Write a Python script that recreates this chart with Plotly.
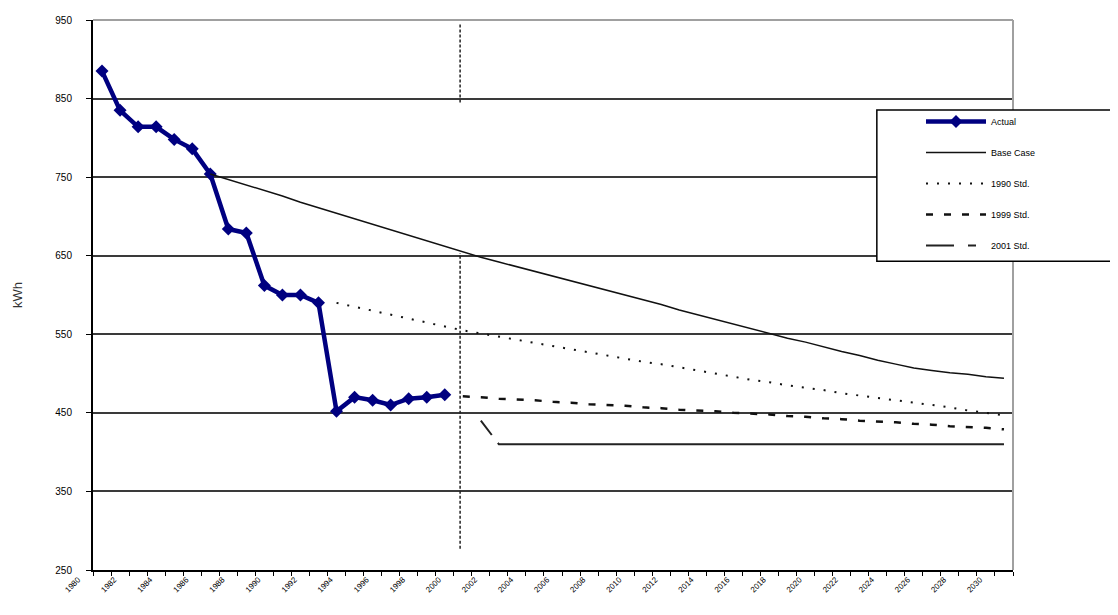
import plotly.graph_objects as go

# ---------------- data ----------------
actual_years = list(range(1980, 2000))
actual_kwh = [885, 835, 814, 814, 798, 786, 754, 684, 679, 612,
              600, 600, 590, 452, 470, 466, 460, 468, 470, 473]

base_years = list(range(1986, 2031))
base_kwh = [754, 747, 740, 733, 726, 718, 711, 704, 697, 690,
            683, 675, 668, 661, 654, 648, 642, 636, 630, 624,
            618, 612, 606, 600, 594, 588, 581, 575, 569, 563,
            557, 551, 545, 540, 534, 528, 523, 517, 512, 507,
            504, 501, 499, 496, 494]

std1990_years = list(range(1993, 2031))
std1990_kwh = [590, 585, 580, 575, 570, 565, 560, 555, 551, 547,
               543, 539, 535, 531, 527, 523, 519, 515, 512, 508,
               504, 500, 496, 492, 489, 485, 482, 479, 475, 472,
               469, 466, 463, 460, 457, 453, 450, 447]

std1999_years = list(range(2000, 2031))
std1999_kwh = [471, 470, 468, 467, 466, 464, 463, 461, 460, 459,
               457, 456, 454, 453, 452, 450, 449, 448, 446, 445,
               443, 442, 440, 439, 438, 436, 435, 433, 432, 431, 429]

std2001_years = list(range(2001, 2031))
std2001_kwh = [440] + [410] * 29

tick_years = list(range(1980, 2031, 2))
tick_labels = [str(y) for y in tick_years]
y_ticks = [250, 350, 450, 550, 650, 750, 850, 950]

# divider (drawn reference line) position and spans
divider_year = 1999.85
divider_spans = [(845, 945), (277, 653)]

# ---------------- figure ----------------
fig = go.Figure()

fig.add_trace(go.Scatter(
    x=actual_years, y=actual_kwh, name="Actual", mode="lines+markers",
    line=dict(color="#000080", width=4.5),
    marker=dict(symbol="diamond", size=10, color="#000080"),
    legendgroup="a"))
fig.add_trace(go.Scatter(
    x=base_years, y=base_kwh, name="Base Case", mode="lines",
    line=dict(color="#111111", width=1.5), legendgroup="b"))
fig.add_trace(go.Scatter(
    x=std1990_years, y=std1990_kwh, name="1990 Std.", mode="lines",
    line=dict(color="#111111", width=2, dash="2px,9px"), legendgroup="c"))
fig.add_trace(go.Scatter(
    x=std1999_years, y=std1999_kwh, name="1999 Std.", mode="lines",
    line=dict(color="#111111", width=2.5, dash="7px,11px"), legendgroup="d"))
fig.add_trace(go.Scatter(
    x=std2001_years, y=std2001_kwh, name="2001 Std.", mode="lines",
    line=dict(color="#222222", width=2, dash="18px,10px,2000px,10px"),
    legendgroup="e", showlegend=False))
# legend entry for 2001 Std. (no data of its own)
fig.add_trace(go.Scatter(
    x=[None], y=[None], name="2001 Std.", mode="lines",
    line=dict(color="#222222", width=2, dash="28px,14px,8px,14px"),
    legendgroup="e"))

shapes = []
for y0, y1 in divider_spans:
    shapes.append(dict(type="line", xref="x", yref="y",
                       x0=divider_year, x1=divider_year, y0=y0, y1=y1,
                       line=dict(color="#222222", width=1.5, dash="3px,2px")))
# top / right plot border (gray)
shapes.append(dict(type="line", xref="paper", yref="paper", x0=0, x1=1, y0=1, y1=1,
                   line=dict(color="#a0a0a0", width=2), layer="above"))
shapes.append(dict(type="line", xref="paper", yref="paper", x0=1, x1=1, y0=0, y1=1,
                   line=dict(color="#a0a0a0", width=2), layer="above"))
# legend box
shapes.append(dict(type="rect", xref="paper", yref="paper",
                   x0=0.852, x1=1.4, y0=0.5612, y1=0.8363,
                   line=dict(color="#000000", width=1.5), fillcolor="white",
                   layer="above"))

fig.update_layout(
    width=1110, height=607,
    margin=dict(l=85, r=105, t=6, b=45),
    paper_bgcolor="white", plot_bgcolor="white",
    font=dict(family="Liberation Sans, Arial, sans-serif", color="#000000"),
    shapes=shapes,
    showlegend=True,
    legend=dict(x=0.90, xanchor="left", y=0.842, yanchor="top",
                bgcolor="rgba(0,0,0,0)", borderwidth=0,
                font=dict(size=9, color="#000000"),
                traceorder="grouped", tracegroupgap=12, itemwidth=60),
    xaxis=dict(range=[1979.5, 2030.5], tickmode="array", tickvals=tick_years,
               ticktext=tick_labels, tickangle=-45, ticks="",
               tickfont=dict(size=8, color="#000000"),
               ticklabelshift=-24,
               showgrid=False, zeroline=False,
               showline=True, linecolor="#000000", linewidth=2,
               minor=dict(tickmode="linear", tick0=1979.5, dtick=1,
                          ticks="outside", ticklen=4, tickcolor="#000000",
                          showgrid=False)),
    yaxis=dict(range=[250, 950], tickmode="array", tickvals=y_ticks,
               ticktext=[str(v) for v in y_ticks],
               ticks="outside", ticklen=5, tickcolor="#000000",
               tickfont=dict(size=10, color="#000000"),
               ticklabelstandoff=12,
               showgrid=True, gridcolor="#3a3a3a", gridwidth=2,
               zeroline=False, showline=True, linecolor="#000000", linewidth=2,
               title=dict(text="kWh", font=dict(size=13, color="#333333"),
                          standoff=30)),
)

fig.write_html("out.html")
